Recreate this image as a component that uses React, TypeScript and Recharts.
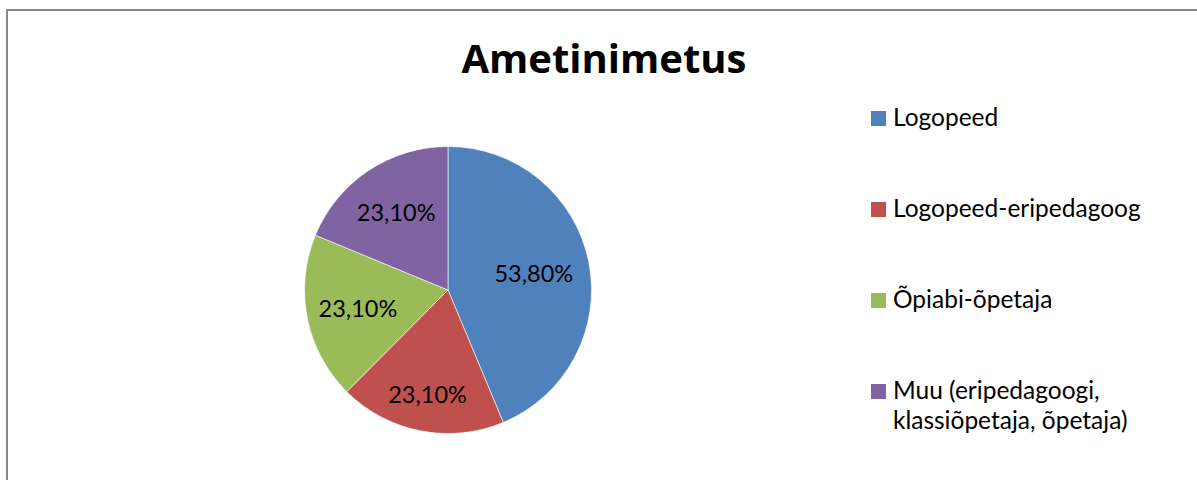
import { PieChart, Pie, Cell, Legend } from "recharts";

const categories = [
  "Logopeed",
  "Logopeed-eripedagoog",
  "Õpiabi-õpetaja",
  "Muu (eripedagoogi, klassiõpetaja, õpetaja)",
];
const shares = [53.8, 23.1, 23.1, 23.1];

const colors = ["#4f81bd", "#c0504d", "#9bbb59", "#8064a2"];
// how far from the centre each label sits, as part of the radius
const labelRadius = [0.61, 0.74, 0.64, 0.65];

const font = "Lato, 'Open Sans', sans-serif";
const RAD = Math.PI / 180;

const chartData = categories.map((name, i) => ({ name, value: shares[i] }));

const formatShare = (v: number) => v.toFixed(2).replace(".", ",") + "%";

function renderLabel(props: any) {
  const { cx, cy, midAngle, outerRadius, index, value } = props;
  const r = outerRadius * labelRadius[index];
  const x = cx + r * Math.cos(-midAngle * RAD);
  const y = cy + r * Math.sin(-midAngle * RAD);
  return (
    <text
      x={x}
      y={y}
      fill="#000"
      textAnchor="middle"
      dominantBaseline="central"
      style={{ fontFamily: font, fontSize: 23.5 }}
    >
      {formatShare(value)}
    </text>
  );
}

function LegendBox() {
  const rowGap = 91;
  return (
    <svg width={330} height={360} style={{ overflow: "visible" }}>
      {categories.map((name, i) => {
        const base = 31 + i * rowGap;
        const cut = name.indexOf(", ");
        const lines =
          cut > 0 && name.length > 30
            ? [name.slice(0, cut + 1), name.slice(cut + 2)]
            : [name];
        return (
          <g key={name}>
            <rect x={11} y={base - 15} width={15} height={15} fill={colors[i]} />
            <text
              x={33}
              y={base}
              fill="#000"
              style={{ fontFamily: font, fontSize: 24.5 }}
            >
              {lines.map((ln, j) => (
                <tspan key={j} x={33} dy={j === 0 ? 0 : 30}>
                  {ln}
                </tspan>
              ))}
            </text>
          </g>
        );
      })}
    </svg>
  );
}

export default function App() {
  return (
    <div
      style={{
        position: "fixed",
        left: 0,
        top: 0,
        width: 1197,
        height: 480,
        overflow: "hidden",
        background: "#fff",
      }}
    >
      <div
        style={{
          position: "absolute",
          left: 6,
          top: 9,
          width: 1300,
          height: 600,
          border: "2px solid #868686",
        }}
      />
      <svg
        width={1197}
        height={100}
        style={{ position: "absolute", left: 0, top: 0 }}
      >
        <text
          x={604}
          y={73}
          textAnchor="middle"
          fill="#000"
          style={{ fontFamily: "'Open Sans', sans-serif", fontSize: 40, fontWeight: 700 }}
        >
          Ametinimetus
        </text>
      </svg>
      <div style={{ position: "absolute", left: 0, top: 0 }}>
        <PieChart
          width={1197}
          height={480}
          margin={{ top: 0, right: 0, bottom: 0, left: 0 }}
        >
          <Pie
            data={chartData}
            dataKey="value"
            nameKey="name"
            cx={448}
            cy={290}
            outerRadius={143.5}
            startAngle={90}
            endAngle={-270}
            stroke="rgba(255,255,255,0.6)"
            strokeWidth={1}
            label={renderLabel}
            labelLine={false}
            isAnimationActive={false}
          >
            {chartData.map((_entry, index) => (
              <Cell key={`cell-${index}`} fill={colors[index]} />
            ))}
          </Pie>
          <Legend
            content={() => <LegendBox />}
            wrapperStyle={{ position: "absolute", left: 860, top: 95, width: 330 }}
          />
        </PieChart>
      </div>
    </div>
  );
}
